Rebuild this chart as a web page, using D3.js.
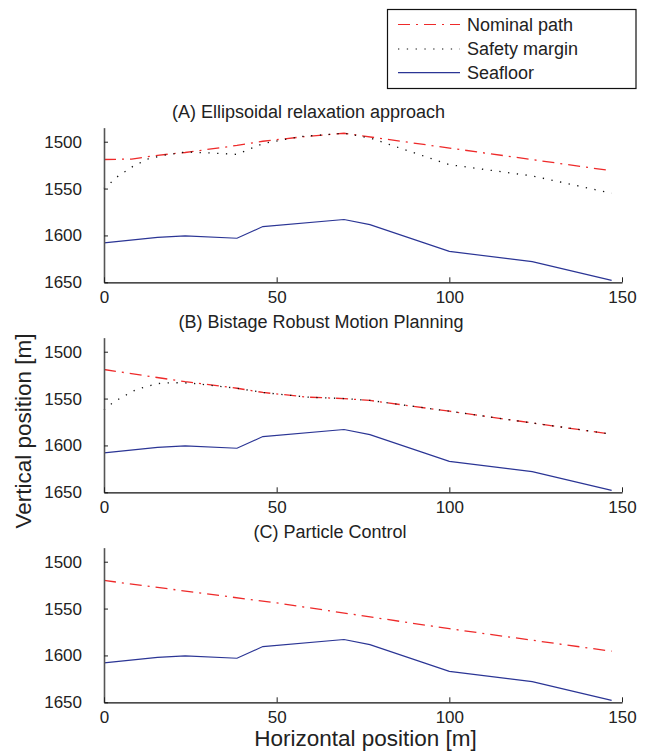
<!DOCTYPE html>
<html>
<head>
<meta charset="utf-8">
<script src="https://cdn.jsdelivr.net/npm/d3@7/dist/d3.min.js"></script>
<style>
  html, body { margin: 0; padding: 0; background: #fff; }
  svg { display: block; font-family: "Liberation Sans", Arial, Helvetica, sans-serif; }
</style>
</head>
<body>
<svg id="chart" width="645" height="756"></svg>
<script>
// ---------- data ----------
const panelTitles = ["(A) Ellipsoidal relaxation approach", "(B) Bistage Robust Motion Planning", "(C) Particle Control"];
const xTicks = [0, 50, 100, 150];
const yTicks = [1500, 1550, 1600, 1650];
const legendLabels = ["Nominal path", "Safety margin", "Seafloor"];

const seafloorX = [0, 15.5, 23.5, 38.5, 46, 69.5, 77, 100, 124, 147];
const seafloorY = [1608, 1602, 1600.5, 1603, 1590.5, 1583, 1588.5, 1617, 1628, 1648];

const nominalAX = [0, 8, 15.5, 23.5, 38.5, 46, 57, 69.5, 147];
const nominalAY = [1519, 1518.5, 1514.5, 1511.5, 1504, 1499.5, 1495, 1491, 1531];
const safetyAX = [0, 4, 8.5, 13, 18, 23.5, 31, 38.5, 46, 57, 69.5, 77, 100, 124, 147];
const safetyAY = [1550, 1537, 1526, 1518, 1514, 1511, 1512, 1513.5, 1502, 1494.5, 1491, 1496, 1524.5, 1536.5, 1555];

const nominalBX = [0, 23.5, 38.5, 46, 59, 69.5, 77, 100, 124, 147];
const nominalBY = [1519, 1532, 1539, 1543.5, 1548.5, 1550, 1552, 1563.5, 1576, 1588];
const safetyBX = [0, 2, 4.5, 7, 9, 12, 15.5, 20, 25, 38.5, 46, 59, 69.5, 77, 100, 124, 147];
const safetyBY = [1562, 1556, 1550, 1545, 1541, 1537.5, 1534, 1533, 1533.5, 1539, 1543.5, 1548.5, 1550, 1552, 1563.5, 1576, 1588];

const nominalCX = [0, 50, 100, 147];
const nominalCY = [1520, 1544, 1571.5, 1595.5];

// ---------- build ----------
const zip = (xs, ys) => xs.map((x, i) => ({x, y: ys[i]}));
const panels = [
  {title: panelTitles[0], nominal: zip(nominalAX, nominalAY), safety: zip(safetyAX, safetyAY)},
  {title: panelTitles[1], nominal: zip(nominalBX, nominalBY), safety: zip(safetyBX, safetyBY)},
  {title: panelTitles[2], nominal: zip(nominalCX, nominalCY), safety: null}
];
const seafloor = zip(seafloorX, seafloorY);

const svg = d3.select("#chart");
const xLeft = 104, xRight = 622;
const panelBottom0 = 282.3, panelStep = 210, pxPerUnit = 0.9373;
const yDomain = [1485, 1650];
const titleX = [308.5, 321, 330];

const COL_NOM = "#ee2a2a", COL_SAFE = "#111", COL_SEA = "#2b3595";
const DASH_NOM = "12,6,2,6", DASH_SAFE = "1.3,7.5";

const x = d3.scaleLinear().domain([0, 150]).range([xLeft, xRight]);

panels.forEach((p, i) => {
  const bottom = panelBottom0 + panelStep * i;
  const top = bottom - (yDomain[1] - yDomain[0]) * pxPerUnit;
  const y = d3.scaleLinear().domain(yDomain).range([top, bottom]);
  const g = svg.append("g");

  const line = d3.line().x(d => x(d.x)).y(d => y(d.y));

  g.append("path").datum(seafloor).attr("d", line)
    .attr("fill", "none").attr("stroke", COL_SEA).attr("stroke-width", 1.2);
  g.append("path").datum(p.nominal).attr("d", line)
    .attr("fill", "none").attr("stroke", COL_NOM).attr("stroke-width", 1.3)
    .attr("stroke-dasharray", DASH_NOM);
  if (p.safety) {
    g.append("path").datum(p.safety).attr("d", line)
      .attr("fill", "none").attr("stroke", COL_SAFE).attr("stroke-width", 1.3)
      .attr("stroke-dasharray", DASH_SAFE);
  }

  // axes
  const ya = g.append("g").attr("transform", `translate(${xLeft},0)`)
    .call(d3.axisLeft(y).tickValues(yTicks).tickSize(-4).tickSizeOuter(0).tickPadding(22).tickFormat(d3.format("d")));
  ya.select(".domain").attr("stroke", "#555").attr("stroke-width", 1.6);
  ya.selectAll(".tick line").attr("stroke", "#222");
  ya.selectAll("text").attr("font-size", 17).attr("fill", "#222")
    .attr("font-family", "'Liberation Sans', Arial, sans-serif");

  const xa = g.append("g").attr("transform", `translate(0,${bottom})`)
    .call(d3.axisBottom(x).tickValues(xTicks).tickSize(-5).tickSizeOuter(0).tickPadding(8.5));
  xa.select(".domain").attr("stroke", "#111").attr("stroke-width", 1.3);
  xa.selectAll(".tick line").attr("stroke", "#222");
  xa.selectAll("text").attr("font-size", 17).attr("fill", "#222")
    .attr("font-family", "'Liberation Sans', Arial, sans-serif");

  g.append("text").attr("x", titleX[i]).attr("y", 117.5 + panelStep * i)
    .attr("text-anchor", "middle").attr("font-size", 18).attr("fill", "#222")
    .text(p.title);
});

// axis labels
svg.append("text").attr("x", 365.5).attr("y", 746)
  .attr("text-anchor", "middle").attr("font-size", 22.5).attr("fill", "#222")
  .text("Horizontal position [m]");
svg.append("text").attr("transform", "translate(30.5,431) rotate(-90)")
  .attr("text-anchor", "middle").attr("font-size", 22.5).attr("fill", "#222")
  .text("Vertical position [m]");

// legend
const leg = svg.append("g");
leg.append("rect").attr("x", 387.5).attr("y", 9.5).attr("width", 248.5).attr("height", 79)
  .attr("fill", "#fff").attr("stroke", "#111").attr("stroke-width", 1.2);
const legStyles = [
  {c: COL_NOM, d: DASH_NOM},
  {c: COL_SAFE, d: DASH_SAFE},
  {c: COL_SEA, d: null}
];
const legRowY = [24.5, 49, 72.7];
legendLabels.forEach((lab, i) => {
  const l = leg.append("line").attr("x1", 398).attr("x2", 460)
    .attr("y1", legRowY[i]).attr("y2", legRowY[i])
    .attr("stroke", legStyles[i].c).attr("stroke-width", 1.2);
  if (legStyles[i].d) l.attr("stroke-dasharray", legStyles[i].d);
  leg.append("text").attr("x", 467).attr("y", legRowY[i] + 6.3)
    .attr("font-size", 18).attr("fill", "#222").text(lab);
});
</script>
</body>
</html>
